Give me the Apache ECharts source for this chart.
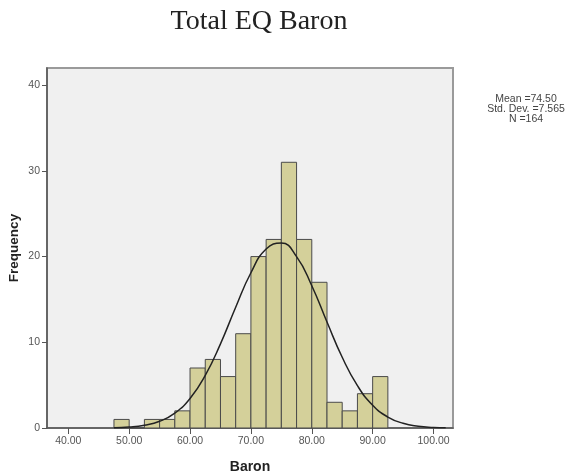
<!DOCTYPE html>
<html>
<head>
<meta charset="utf-8">
<script src="https://cdn.jsdelivr.net/npm/echarts@6/dist/echarts.min.js"></script>
<style>
  html, body { margin: 0; padding: 0; background: #fff; }
  #chart { width: 565px; height: 476px; }
</style>
</head>
<body>
<div id="chart"></div>
<script>
// histogram bins (width 2.5)
var binStart = [47.5, 50, 52.5, 55, 57.5, 60, 62.5, 65, 67.5, 70, 72.5, 75, 77.5, 80, 82.5, 85, 87.5, 90];
var binCount = [1, 0, 1, 1, 2, 7, 8, 6, 11, 20, 22, 31, 22, 17, 3, 2, 4, 6];
var binWidth = 2.5;

// fitted normal curve
var curveX = [47.5, 50, 52.5, 55, 57.5, 60, 62.5, 65, 67.5, 70, 72.5, 75, 77.5, 80, 82.5, 85, 87.5, 90, 92.5, 95, 97.5, 100, 102];
var curveY = [0.04, 0.11, 0.32, 0.78, 1.73, 3.44, 6.14, 9.82, 14.09, 18.11, 20.88, 21.57, 19.99, 16.6, 12.36, 8.25, 4.94, 2.65, 1.28, 0.55, 0.21, 0.07, 0.02];

var xTicks = [40, 50, 60, 70, 80, 90, 100];
var yTicks = [0, 10, 20, 30, 40];
var statLines = ['Mean =74.50', 'Std. Dev. =7.565', 'N =164'];

var chart = echarts.init(document.getElementById('chart'));

var histData = [];
for (var i = 0; i < binStart.length; i++) {
  histData.push([binStart[i], binStart[i] + binWidth, binCount[i]]);
}
var curveData = [];
for (var j = 0; j < curveX.length; j++) {
  curveData.push([curveX[j], curveY[j]]);
}

chart.setOption({
  animation: false,
  title: [{
    text: 'Total EQ Baron',
    left: 254, top: 3, textAlign: 'center',
    textStyle: { fontFamily: 'Liberation Serif', fontWeight: 'normal', fontSize: 28, color: '#222' }
  }, {
    text: statLines.join('\n'),
    left: 521, top: 89, textAlign: 'center',
    textStyle: { fontFamily: 'Liberation Sans', fontWeight: 'normal', fontSize: 10.5, lineHeight: 10, color: '#444' }
  }],
  grid: {
    left: 47, right: 112, top: 68, bottom: 48,
    outerBoundsMode: 'none', containLabel: false,
    show: true, backgroundColor: '#f0f0f0', borderColor: '#9a9a9a', borderWidth: 2
  },
  xAxis: {
    type: 'value', min: 36.5, max: 103.2,
    name: 'Baron', nameLocation: 'middle', nameGap: 32, nameMoveOverlap: false,
    nameTextStyle: { fontFamily: 'Liberation Sans', fontWeight: 'bold', fontSize: 14, color: '#222' },
    splitLine: { show: false },
    axisLine: { onZero: false, lineStyle: { color: '#555', width: 1.5 } },
    axisTick: { customValues: xTicks, length: 6, lineStyle: { color: '#555' } },
    axisLabel: {
      customValues: xTicks, margin: 8,
      formatter: function (v) { return v.toFixed(2); },
      fontFamily: 'Liberation Sans', fontSize: 10.5, color: '#555'
    }
  },
  yAxis: {
    type: 'value', min: 0, max: 42,
    name: 'Frequency', nameLocation: 'middle', nameGap: 26, nameMoveOverlap: false,
    nameTextStyle: { fontFamily: 'Liberation Sans', fontWeight: 'bold', fontSize: 13.5, color: '#222' },
    splitLine: { show: false },
    axisLine: { show: true, lineStyle: { color: '#555', width: 1.5 } },
    axisTick: { show: true, customValues: yTicks, length: 5, lineStyle: { color: '#555' } },
    axisLabel: {
      customValues: yTicks, margin: 7,
      fontFamily: 'Liberation Sans', fontSize: 10.5, color: '#555'
    }
  },
  series: [{
    type: 'custom',
    data: histData,
    encode: { x: [0, 1], y: 2 },
    renderItem: function (params, api) {
      var p0 = api.coord([api.value(0), api.value(2)]);
      var p1 = api.coord([api.value(1), 0]);
      return {
        type: 'rect',
        shape: { x: p0[0], y: p0[1], width: p1[0] - p0[0], height: p1[1] - p0[1] },
        style: { fill: '#d4d09a', stroke: '#4a4a4a', lineWidth: 1 }
      };
    }
  }, {
    type: 'line',
    data: curveData,
    smooth: true,
    symbol: 'none',
    lineStyle: { color: '#222', width: 1.5 },
    z: 5
  }]
});
</script>
</body>
</html>
